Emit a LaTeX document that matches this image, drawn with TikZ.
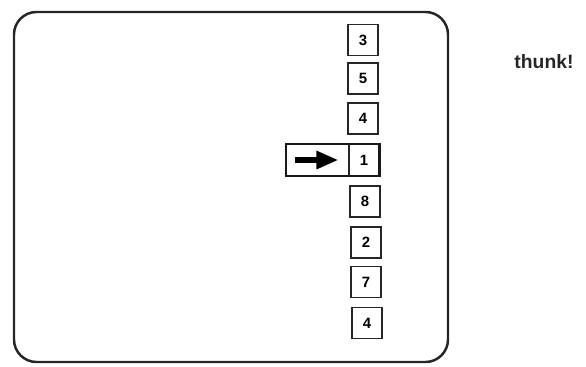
\documentclass[tikz,border=0pt]{standalone}
\usepackage{fontspec}
\setsansfont{Liberation Sans}
\usetikzlibrary{positioning,arrows.meta}

\begin{document}
\begin{tikzpicture}[x=0.02cm, y=-0.02cm, font=\sffamily\bfseries]

% =========================
% Styles
% =========================
\tikzset{
    numbox/.style={
        draw=black!85,
        line width=0.6pt,
        minimum width=0.6cm,
        minimum height=0.62cm,
        inner sep=0pt,
        fill=white,
        font=\sffamily\bfseries\fontsize{8.5}{9}\selectfont
    },
    ptrbox/.style={
        minimum width=1.24cm,
        minimum height=0.64cm,
        inner sep=0pt
    },
    bigarrow/.style={
        line width=3.4pt,
        -{Triangle[length=0.44cm, width=0.34cm]}
    }
}

% =========================
% Canvas & Screen Frame
% =========================
\useasboundingbox (0,0) rectangle (586,366);
\draw[black!85, line width=1.4pt, rounded corners=0.45cm] (14,12) rectangle (448,362);

% =========================
% Stack of Number Boxes
% =========================
\node[numbox] (n1) at (363, 40)  {3};
\node[numbox] (n2) at (363, 78.5)  {5};
\node[numbox] (n3) at (363, 118.5) {4};
\node[numbox] (n4) at (364, 160) {1};
\node[numbox] (n5) at (365, 201.5) {8};
\node[numbox] (n6) at (366, 242.5) {2};
\node[numbox] (n7) at (366, 282) {7};
\node[numbox] (n8) at (367, 323) {4};

% =========================
% Pointer on the current box
% =========================
\node[ptrbox, left=0pt of n4] (ptr) {};
\draw[black!90, line width=1.3pt] (ptr.north west) rectangle (n4.south east);
\draw[bigarrow] ([xshift=0.18cm]ptr.west) -- ([xshift=-0.2cm]ptr.east);

% =========================
% Sound label
% =========================
\node[font=\sffamily\bfseries\fontsize{11}{12}\selectfont, text=black!85] (snd) at (544, 62) {thunk!};

\end{tikzpicture}
\end{document}
